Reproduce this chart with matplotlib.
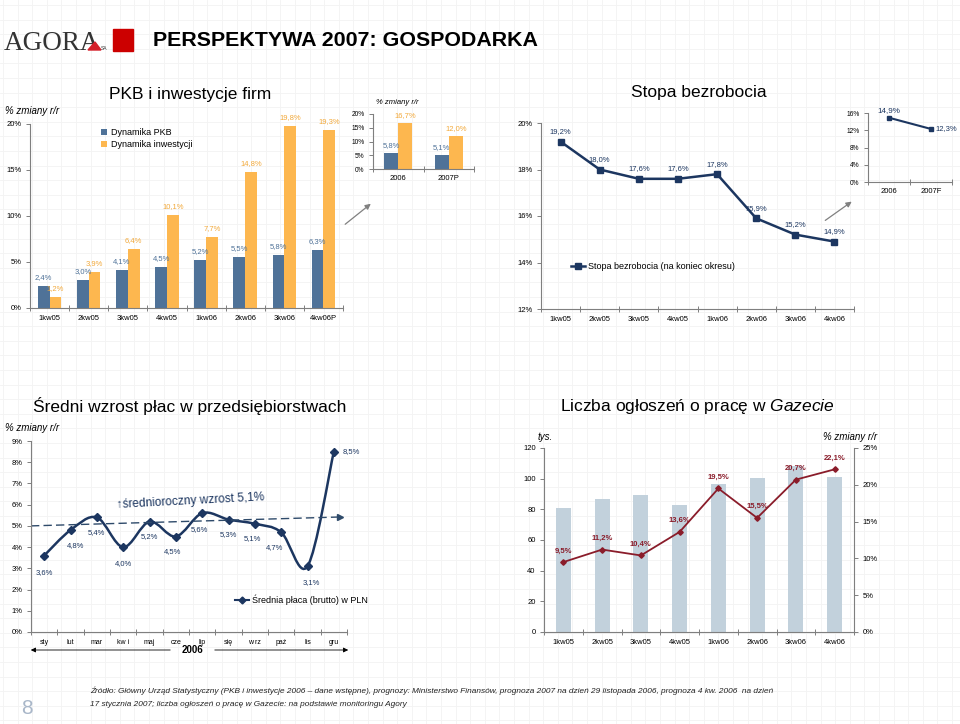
import numpy as np
import matplotlib.pyplot as plt
from matplotlib.path import Path
from matplotlib.patches import PathPatch, Rectangle, Polygon

plt.rcParams['font.family'] = ['Liberation Sans', 'DejaVu Sans']
plt.rcParams['mathtext.fontset'] = 'custom'
plt.rcParams['mathtext.rm'] = 'Liberation Sans'
plt.rcParams['mathtext.it'] = 'Liberation Sans:italic'
plt.rcParams['mathtext.bf'] = 'Liberation Sans:bold'

# ==========================
# Data
# ==========================

quarters_pkb = ['1kw05', '2kw05', '3kw05', '4kw05', '1kw06', '2kw06', '3kw06', '4kw06P']
pkb = [2.4, 3.0, 4.1, 4.5, 5.2, 5.5, 5.8, 6.3]
inwestycje = [1.2, 3.9, 6.4, 10.1, 7.7, 14.8, 19.8, 19.3]

years_pkb = ['2006', '2007P']
pkb_year = [5.8, 5.1]
inwestycje_year = [16.7, 12.0]

quarters = ['1kw05', '2kw05', '3kw05', '4kw05', '1kw06', '2kw06', '3kw06', '4kw06']
bezrobocie = [19.2, 18.0, 17.6, 17.6, 17.8, 15.9, 15.2, 14.9]

years_bezr = ['2006', '2007F']
bezrobocie_year = [14.9, 12.3]

months = ['sty', 'lut', 'mar', 'kw i', 'maj', 'cze', 'lip', 'się', 'w rz', 'paź', 'lis', 'gru']
place = [3.6, 4.8, 5.4, 4.0, 5.2, 4.5, 5.6, 5.3, 5.1, 4.7, 3.1, 8.5]
trend = [5.0, 5.42]

ogloszenia = [81, 87, 89.5, 83, 96.5, 100.5, 108, 101]
ogloszenia_rr = [9.5, 11.2, 10.4, 13.6, 19.5, 15.5, 20.7, 22.1]

# ==========================
# Colours
# ==========================

BLUE = '#4f7298'
ORANGE = '#fdb74f'
ORANGE_TXT = '#f2a93b'
NAVY = '#1c3660'
RED = '#8a1c2a'
STEEL = '#c2d1dc'
GREY = '#7f7f7f'

W, H = 960, 724
fig = plt.figure(figsize=(W / 100, H / 100), dpi=100)


def pl(v):
    return f'{v:.1f}%'.replace('.', ',')


def add_ax(x0, y0, x1, y1):
    return fig.add_axes([x0 / W, 1 - y1 / H, (x1 - x0) / W, (y1 - y0) / H])


def style(ax, n, yticks, ylabels, fs=5.5):
    for s in ['top', 'right']:
        ax.spines[s].set_visible(False)
    for s in ['left', 'bottom']:
        ax.spines[s].set_color(GREY)
        ax.spines[s].set_linewidth(0.8)
    ax.set_facecolor('none')
    ax.set_xlim(-0.5, n - 0.5)
    ax.set_ylim(yticks[0], yticks[-1])
    ax.set_yticks(yticks)
    ax.set_yticklabels(ylabels, fontsize=fs)
    ax.tick_params(axis='y', length=3, width=0.7, color=GREY, pad=3)
    ax.set_xticks(np.arange(-0.5, n, 1))
    ax.set_xticklabels([])
    ax.tick_params(axis='x', which='major', direction='inout', length=5, width=0.7, color=GREY)


def cat_labels(ax, labels, fs=5.5, pad=5):
    ax.set_xticks(np.arange(len(labels)), minor=True)
    ax.set_xticklabels(labels, minor=True, fontsize=fs)
    ax.tick_params(axis='x', which='minor', length=0, pad=pad)


# ==========================
# Background (grid paper, header, footer)
# ==========================

bg = fig.add_axes([0, 0, 1, 1])
bg.set_xlim(0, W)
bg.set_ylim(H, 0)
bg.axis('off')
for gx in np.arange(3, W, 14.6):
    bg.axvline(gx, color='#f3f3f3', lw=0.6, zorder=0)
for gy in np.arange(5, H, 14.6):
    bg.axhline(gy, color='#f3f3f3', lw=0.6, zorder=0)

bg.text(4, 50, 'AGORA', family='Liberation Serif', fontsize=19.5, color='#333333', va='baseline')
bg.add_patch(Polygon([[88, 50], [95, 42], [101, 50]], closed=True, color='#d4202a', zorder=3))
bg.text(101, 50, 'SA', fontsize=3.5, color='#333333', va='baseline')
bg.add_patch(Rectangle((113, 29), 20, 22, color='#cc0000'))
bg.text(153, 41, 'PERSPEKTYWA 2007: GOSPODARKA', fontsize=15.4, fontweight='bold', va='center',
        color='black')

bg.text(27, 708, '8', fontsize=15, color='#a9b7c9', ha='center', va='center')
bg.text(90, 691,
        'Źródło: Główny Urząd Statystyczny (PKB i inwestycje 2006 – dane wstępne), prognozy: Ministerstwo Finansów, '
        'prognoza 2007 na dzień 29 listopada 2006, prognoza 4 kw. 2006  na dzień',
        fontsize=5.95, style='italic', va='center', color='#222222')
bg.text(90, 704, '17 stycznia 2007; liczba ogłoszeń o pracę w Gazecie: na podstawie monitoringu Agory',
        fontsize=5.95, style='italic', va='center', color='#222222')

# connector arrows to the insets
bg.annotate('', xy=(373, 202), xytext=(343, 226),
            arrowprops=dict(arrowstyle='-|>', color='#808080', lw=0.9, mutation_scale=8))
bg.annotate('', xy=(854, 200), xytext=(823, 222),
            arrowprops=dict(arrowstyle='-|>', color='#808080', lw=0.9, mutation_scale=8))

# ==========================
# PKB i inwestycje firm
# ==========================

bg.text(190, 95, 'PKB i inwestycje firm', fontsize=12.5, ha='center', va='center')
bg.text(5, 111, '% zmiany r/r', fontsize=7, style='italic', va='center')

ax1 = add_ax(30, 124, 343, 308)
style(ax1, len(quarters_pkb), [0, 5, 10, 15, 20], ['0%', '5%', '10%', '15%', '20%'])
cat_labels(ax1, quarters_pkb)
x = np.arange(len(quarters_pkb))
ax1.bar(x - 0.15, pkb, 0.3, color=BLUE, label='Dynamika PKB')
ax1.bar(x + 0.15, inwestycje, 0.3, color=ORANGE, label='Dynamika inwestycji')
for i in range(len(x)):
    ax1.annotate(pl(pkb[i]), (x[i] - 0.15, pkb[i]), xytext=(0, 5), textcoords='offset points',
                 ha='center', fontsize=5.5, color=BLUE)
    ax1.annotate(pl(inwestycje[i]), (x[i] + 0.15, inwestycje[i]), xytext=(0, 5), textcoords='offset points',
                 ha='center', fontsize=5.5, color=ORANGE_TXT)
ax1.legend(loc='upper left', bbox_to_anchor=(0.2, 1.02), frameon=False, fontsize=6.5,
           handlelength=0.7, handleheight=0.7, handletextpad=0.4, labelspacing=0.3)

# inset: yearly
bg.text(376, 103, '% zmiany r/r', fontsize=5.5, style='italic', va='center')
ax1b = add_ax(373, 114, 474, 169)
style(ax1b, 2, [0, 5, 10, 15, 20], ['0%', '5%', '10%', '15%', '20%'], fs=4.8)
cat_labels(ax1b, years_pkb, fs=5.5, pad=4)
xb = np.arange(2)
ax1b.bar(xb - 0.14, pkb_year, 0.28, color=BLUE)
ax1b.bar(xb + 0.14, inwestycje_year, 0.28, color=ORANGE)
for i in range(2):
    ax1b.annotate(pl(pkb_year[i]), (xb[i] - 0.14, pkb_year[i]), xytext=(0, 4), textcoords='offset points',
                  ha='center', fontsize=5.5, color=BLUE)
    ax1b.annotate(pl(inwestycje_year[i]), (xb[i] + 0.14, inwestycje_year[i]), xytext=(0, 4),
                  textcoords='offset points', ha='center', fontsize=5.5, color=ORANGE_TXT)

# ==========================
# Stopa bezrobocia
# ==========================

bg.text(699, 93, 'Stopa bezrobocia', fontsize=12.5, ha='center', va='center')
ax2 = add_ax(541, 123, 854, 309)
style(ax2, len(quarters), [12, 14, 16, 18, 20], ['12%', '14%', '16%', '18%', '20%'])
cat_labels(ax2, quarters)
x = np.arange(len(quarters))
ax2.plot(x, bezrobocie, color=NAVY, lw=1.8, marker='s', ms=4,
         label='Stopa bezrobocia (na koniec okresu)')
for i in range(len(x)):
    ax2.annotate(pl(bezrobocie[i]), (x[i], bezrobocie[i]), xytext=(0, 6), textcoords='offset points',
                 ha='center', fontsize=5.5, color=NAVY)
ax2.legend(loc='center left', bbox_to_anchor=(0.07, 0.23), frameon=False, fontsize=6.5,
           handlelength=1.6, handletextpad=0.3)

ax2b = add_ax(868, 113, 952, 182)
style(ax2b, 2, [0, 4, 8, 12, 16], ['0%', '4%', '8%', '12%', '16%'], fs=4.8)
cat_labels(ax2b, years_bezr, fs=5.5, pad=4)
ax2b.plot([0, 1], bezrobocie_year, color=NAVY, lw=1.5, marker='s', ms=3.5, clip_on=False)
ax2b.annotate(pl(bezrobocie_year[0]), (0, bezrobocie_year[0]), xytext=(0, 4), textcoords='offset points',
              ha='center', fontsize=5.8, color=NAVY)
ax2b.annotate(pl(bezrobocie_year[1]), (1, bezrobocie_year[1]), xytext=(3, 0), textcoords='offset points',
              ha='left', va='center', fontsize=5.5, color=NAVY)

# ==========================
# Średni wzrost płac
# ==========================

bg.text(190, 406, 'Średni wzrost płac w przedsiębiorstwach', fontsize=12.5, ha='center', va='center')
bg.text(5, 428, '% zmiany r/r', fontsize=7, style='italic', va='center')
ax3 = add_ax(31, 441, 347, 632)
style(ax3, len(months), list(range(10)), [f'{v}%' for v in range(10)])
cat_labels(ax3, months, fs=5)
x = np.arange(len(months))

# smoothed line (Catmull-Rom as cubic Bezier segments)
pts = np.column_stack([x, place]).astype(float)
verts = [pts[0]]
codes = [Path.MOVETO]
for i in range(len(pts) - 1):
    p0 = pts[max(i - 1, 0)]
    p1 = pts[i]
    p2 = pts[i + 1]
    p3 = pts[min(i + 2, len(pts) - 1)]
    verts += [p1 + (p2 - p0) / 6, p2 - (p3 - p1) / 6, p2]
    codes += [Path.CURVE4] * 3
ax3.add_patch(PathPatch(Path(verts, codes), fill=False, edgecolor=NAVY, lw=1.8))
ax3.plot(x, place, ls='none', marker='D', ms=4, color=NAVY)
ax3.plot([], [], color=NAVY, lw=1.5, marker='D', ms=3.5, label='Średnia płaca (brutto) w PLN')

offsets = [(0, -12), (4, -11), (0, -11), (0, -12), (0, -11), (-2, -11),
           (-2, -12), (0, -11), (-2, -11), (-5, -11), (3, -12), (6, 0)]
for i in range(len(x)):
    dx, dy = offsets[i]
    ax3.annotate(pl(place[i]), (x[i], place[i]), xytext=(dx, dy), textcoords='offset points',
                 ha='left' if dy == 0 else 'center', va='center', fontsize=5.5, color=NAVY)

# dashed trend line with arrow head
ax3.plot([-0.5, 11.25], trend, color='#2e4a6a', lw=1.0, ls=(0, (6, 3)))
ax3.plot([11.25], [trend[1]], marker='>', ms=5, color='#2e4a6a', clip_on=False)
ax3.text(2.75, 6.15, '↑średnioroczny wzrost 5,1%', fontsize=8.6, color=NAVY, rotation=3,
         ha='left', va='center', family=['Liberation Sans', 'DejaVu Sans'])

ax3.legend(loc='center left', bbox_to_anchor=(0.62, 0.17), frameon=False, fontsize=6.5,
           handlelength=1.6, handletextpad=0.3)

# 2006 span arrows under the axis
bg.text(193, 650, '2006', fontsize=7, fontweight='bold', ha='center', va='center')
bg.annotate('', xy=(28, 650), xytext=(173, 650),
            arrowprops=dict(arrowstyle='-|>', color='black', lw=0.6, mutation_scale=7))
bg.annotate('', xy=(351, 650), xytext=(212, 650),
            arrowprops=dict(arrowstyle='-|>', color='black', lw=0.6, mutation_scale=7))

# ==========================
# Liczba ogłoszeń o pracę w Gazecie
# ==========================

bg.text(697, 407, r'Liczba ogłoszeń o pracę w $\mathit{Gazecie}$', fontsize=12.5, ha='center', va='center')
bg.text(538, 437, 'tys.', fontsize=7, style='italic', va='center')
bg.text(877, 437, '% zmiany r/r', fontsize=7, style='italic', va='center', ha='right')

ax4 = add_ax(544, 448, 854, 632)
style(ax4, len(quarters), [0, 20, 40, 60, 80, 100, 120], ['0', '20', '40', '60', '80', '100', '120'])
cat_labels(ax4, quarters)
x = np.arange(len(quarters))
ax4.bar(x, ogloszenia, 0.39, color=STEEL, zorder=1)

ax4r = ax4.twinx()
ax4r.set_facecolor('none')
for s in ['top', 'left', 'bottom']:
    ax4r.spines[s].set_visible(False)
ax4r.spines['right'].set_color(GREY)
ax4r.spines['right'].set_linewidth(0.8)
ax4r.set_ylim(0, 25)
ax4r.set_yticks([0, 5, 10, 15, 20, 25])
ax4r.set_yticklabels(['0%', '5%', '10%', '15%', '20%', '25%'], fontsize=5.5)
ax4r.tick_params(axis='y', length=3, width=0.7, color=GREY, pad=3)
ax4r.plot(x, ogloszenia_rr, color=RED, lw=1.3, marker='D', ms=2.8)
for i in range(len(x)):
    ax4r.annotate(pl(ogloszenia_rr[i]), (x[i], ogloszenia_rr[i]), xytext=(0, 7), textcoords='offset points',
                  ha='center', fontsize=5.5, color=RED, fontweight='bold')

fig.savefig('out.png', dpi=100)
